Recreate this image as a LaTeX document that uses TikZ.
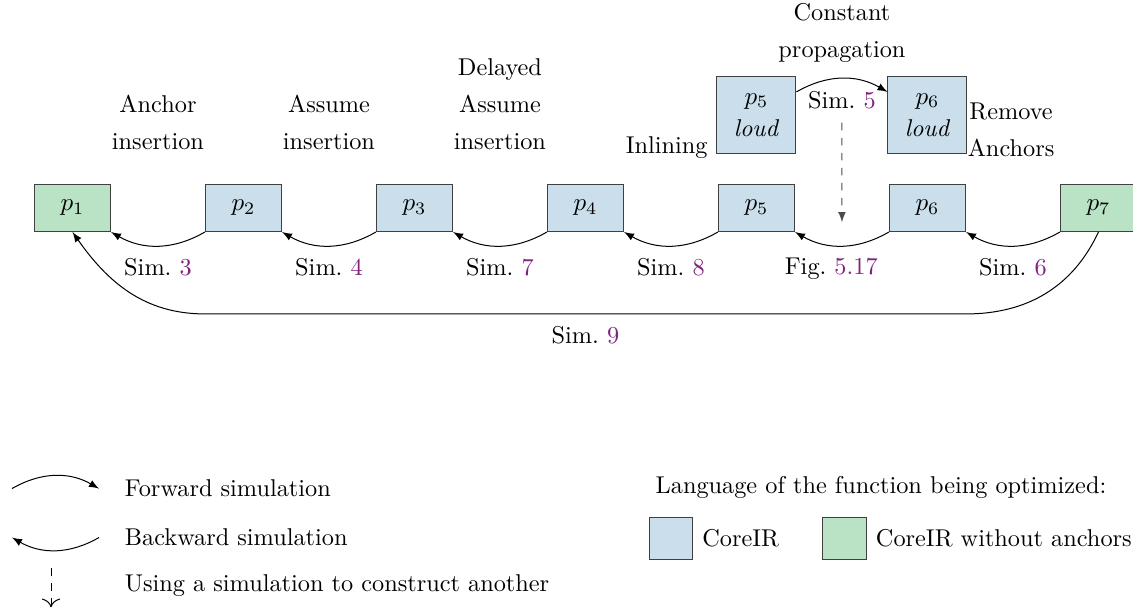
\documentclass[tikz,border=0pt]{standalone}
\usepackage{tikz}
\usetikzlibrary{calc,positioning,arrows.meta}

\definecolor{coreblue}{RGB}{202,222,235}
\definecolor{coregreen}{RGB}{186,226,197}
\definecolor{simpurple}{RGB}{128,34,128}

\def\simno#1{Sim.~\textcolor{simpurple}{#1}}

\tikzset{
	prog/.style={draw=black!75, fill=coreblue, minimum width=1.066cm, minimum height=0.659cm, inner sep=0pt},
	progna/.style={prog, fill=coregreen},
	progloud/.style={prog, minimum width=1.108cm, minimum height=1.08cm, align=center, font=\fontsize{9.7}{12.8}\selectfont},
	pass/.style={align=center},
	simlbl/.style={below=1.5pt},
	bsim/.style={->, >=latex},
	fsim/.style={->, >=latex},
	cons/.style={->, >=latex, dashed, black!70},
}

\begin{document}
\begin{tikzpicture}[node distance=1.319cm, font=\fontsize{9.7}{14.8}\selectfont]
			%%%%% START %%%%%
			\useasboundingbox (0, 0) rectangle (15.896, -8.558);
			
			% programs
			\node[progna] (p1) at (1.017, -2.918) {$p_1$};
			\node[prog, right=of p1] (p2) {$p_2$};
			\node[prog, right=of p2] (p3) {$p_3$};
			\node[prog, right=of p3] (p4) {$p_4$};
			\node[prog, right=of p4] (p5) {$p_5$};
			\node[prog, right=of p5] (p6) {$p_6$};
			\node[progna, right=of p6] (p7) {$p_7$};
			
			\node[progloud, above=0.421cm of p5] (p5l) {$p_5$\\\textit{loud}};
			\node[progloud, above=0.421cm of p6] (p6l) {$p_6$\\\textit{loud}};
			
			% passes
			\node[pass, above=0.35cm] (anchins) at ($(p1.north)!0.5!(p2.north)$) {Anchor\\insertion};
			\node[pass, above=0.35cm] (assins) at ($(p2.north)!0.5!(p3.north)$) {Assume\\insertion};
			\node[pass, above=0.35cm] (delins) at ($(p3.north)!0.5!(p4.north)$) {Delayed\\Assume\\insertion};
			\node[pass, above=0.06cm] (constprop) at ($(p5l.north)!0.5!(p6l.north)$) {Constant\\propagation};
			\node[pass, anchor=base east] (inl) at (p5l.south west) {Inlining};
			\node[pass, anchor=north west] (remanch) at ([xshift=-0.12cm, yshift=-0.25cm]p6l.north east) {Remove\\Anchors};
			
			% simulations
			\draw[bsim] (p2.south west) to[bend left] node[simlbl] {\simno{3}} (p1.south east);
			\draw[bsim] (p3.south west) to[bend left] node[simlbl] {\simno{4}} (p2.south east);
			\draw[bsim] (p4.south west) to[bend left] node[simlbl] {\simno{7}} (p3.south east);
			\draw[bsim] (p5.south west) to[bend left] node[simlbl] {\simno{8}} (p4.south east);
			\draw[bsim] (p6.south west) to[bend left] node[simlbl, xshift=-0.15cm] {Fig.~\textcolor{simpurple}{5.17}} (p5.south east);
			\draw[bsim] (p7.south west) to[bend left] node[simlbl] {\simno{6}} (p6.south east);
			
			\draw[fsim] (p5l.30) to[bend left] node[simlbl] (s5) {\simno{5}} (p6l.150);
			\coordinate (figtip) at ($(p5.east)!0.5!(p6.west)+(0,-0.2)$);
			\draw[cons, shorten <=2pt] (s5) -- (figtip);
			
			\coordinate (s9r) at ($(p6.south east)+(0,-1.15)$);
			\coordinate (s9l) at ($(p2.south west)+(0,-1.15)$);
			\draw[bsim] (p7.south) to[out=-115, in=0] (s9r) -- node[simlbl] {\simno{9}} (s9l) to[out=180, in=-55] (p1.south);
			
			% legend
			\coordinate (fwda) at (0.168, -6.855);
			\coordinate (fwdb) at (1.389, -6.855);
			\draw[fsim] (fwda) to[bend left] (fwdb);
			\node[right=0.24cm of fwdb] (fwdtxt) {Forward simulation};
			
			\coordinate (bwda) at (1.389, -7.541);
			\coordinate (bwdb) at (0.168, -7.541);
			\draw[bsim] (bwda) to[bend left] (bwdb);
			\node[right=0.24cm of bwda] (bwdtxt) {Backward simulation};
			
			\coordinate (consa) at (0.716, -7.969);
			\coordinate (consb) at (0.716, -8.52);
			\draw[cons, black, -{To[scale=1.4]}] (consa) -- (consb);
			\node[anchor=west] (constxt) at (1.627, -8.222) {Using a simulation to construct another};
			
			\node[anchor=base] (lghead) at (12.36, -6.917) {Language of the function being optimized:};
			\node[prog, minimum width=0.617cm, minimum height=0.603cm] (lgb) at (9.414, -7.555) {};
			\node[right=0pt of lgb] (lgbtxt) {CoreIR};
			\node[progna, minimum width=0.617cm, minimum height=0.603cm] (lgg) at (11.85, -7.555) {};
			\node[right=0pt of lgg] (lggtxt) {CoreIR without anchors};
			
			%%%%% END %%%%%
\end{tikzpicture}
\end{document}
